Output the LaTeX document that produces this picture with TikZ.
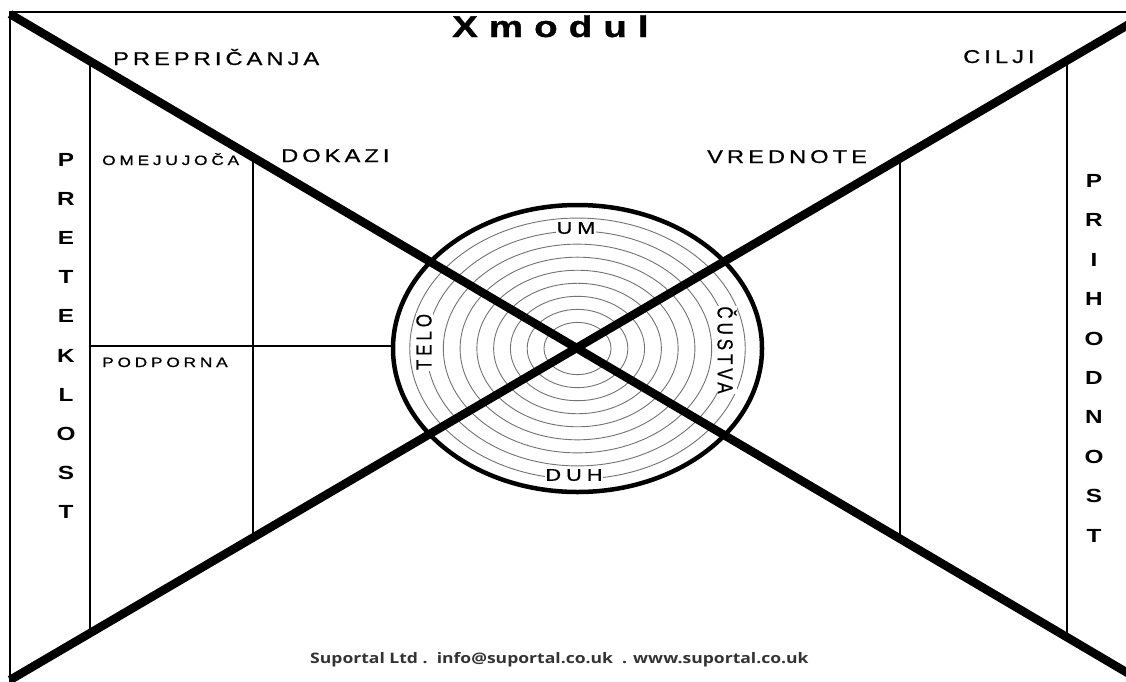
\documentclass[tikz,border=0pt]{standalone}
\usepackage{fontspec}
\setmainfont{Liberation Sans}
\newfontfamily\labfont[LetterSpace=17,FakeBold=0.6]{Liberation Sans}
\newfontfamily\labsmfont[LetterSpace=22,FakeBold=0.6]{Liberation Sans}
\newfontfamily\ringfont[LetterSpace=23,FakeBold=0.6]{Liberation Sans}
\newfontfamily\titlefont[LetterSpace=29,FakeBold=1]{Liberation Sans}
\newfontfamily\footfont{Open Sans}
\newcommand{\hstr}[1]{\scalebox{1.28}[1]{#1}}
\newcommand{\vstr}[1]{\scalebox{1}[1.28]{#1}}
\tikzset{
  frameline/.style={line width=1.5pt, black},
  diag/.style={line width=8.5pt, black},
  divider/.style={line width=2pt, black},
  ringline/.style={line width=0.9pt, black!55},
  outer/.style={line width=4.5pt, black},
  lab/.style={inner sep=0pt, anchor=base west, font=\labfont\fontsize{18.5}{18.5}\selectfont},
  labsm/.style={inner sep=0pt, anchor=base west, font=\labsmfont\fontsize{13.5}{13.5}\selectfont},
  ringlab/.style={inner sep=0.8pt, fill=white, font=\ringfont\fontsize{17}{17}\selectfont},
  vletter/.style={inner sep=0pt, font=\bfseries\fontsize{19}{19}\selectfont},
}
\begin{document}
\begin{tikzpicture}[x=1pt,y=-1pt]
\useasboundingbox (0,0) rectangle (1126,681);
\begin{scope}
\clip (0,0) rectangle (1126,681);
\fill[white] (0,0) rectangle (1126,681);
% frame
\coordinate (FTL) at (10,12);
\coordinate (FTR) at (1130,12);
\coordinate (FBL) at (10,690);
\draw[frameline] (FBL) -- (FTL) -- (FTR);
% ellipse rings
\coordinate (C) at (577.5,348.5);
\foreach \k in {2,...,10}{
  \draw[ringline] (C) ellipse ({184.5pt*\k/11} and {143.5pt*\k/11});
}
% dividers
\coordinate (V1t) at (90,61.2);   \coordinate (V1b) at (90,633.1);
\coordinate (V2t) at (253,157.3); \coordinate (V2b) at (253,537.6);
\coordinate (V3t) at (900,158.4); \coordinate (V3b) at (900,538.8);
\coordinate (V4t) at (1067,60.6); \coordinate (V4b) at (1067,637.2);
\coordinate (H1) at (90,346);     \coordinate (H2) at (393,346);
\draw[divider] (V1t) -- (V1b);
\draw[divider] (V2t) -- (V2b);
\draw[divider] (V3t) -- (V3b);
\draw[divider] (V4t) -- (V4b);
\draw[divider] (H1) -- (H2);
% ring labels
\node[ringlab] (um) at (576,228) {\hstr{UM}};
\node[ringlab] (duh) at (574,475) {\hstr{DUH}};
\node[ringlab, rotate=90] (telo) at (424,342) {\vstr{TELO}};
\node[ringlab, rotate=-90] (custva) at (727,350) {\vstr{ČUSTVA}};
% outer ellipse
\draw[outer] (C) ellipse (184.5pt and 143.5pt);
% diagonals
\coordinate (A1) at (10,14);
\coordinate (A2) at (1136,677.9);
\coordinate (B1) at (10,680);
\coordinate (B2) at (1136,20.1);
\draw[diag] (A1) -- (A2);
\draw[diag] (B1) -- (B2);
\end{scope}
% labels
\node[lab] (prep) at (113,65) {\hstr{PREPRIČANJA}};
\node[lab] (dokazi) at (281,162) {\hstr{DOKAZI}};
\node[lab] (vred) at (707,163) {\hstr{VREDNOTE}};
\node[lab] (cilji) at (963,63) {\hstr{CILJI}};
\node[labsm] (omej) at (102,165) {\hstr{OMEJUJOČA}};
\node[labsm] (podp) at (102,367) {\hstr{PODPORNA}};
\node[inner sep=0pt, anchor=base west, font=\titlefont\bfseries\fontsize{30}{30}\selectfont] (title) at (452,37) {\hstr{Xmodul}};
\node[inner sep=0pt, anchor=base west, text=black!80, font=\footfont\bfseries\fontsize{14.5}{14.5}\selectfont] (foot) at (310,663) {\scalebox{1.21}[1]{Suportal Ltd .\ \ info@suportal.co.uk \ . www.suportal.co.uk}};
% vertical words
\foreach \ch [count=\i from 0] in {P,R,E,T,E,K,L,O,S,T}{
  \node[vletter] (pl\i) at (66,{160+39.1*\i}) {\hstr{\ch}};
}
\foreach \ch [count=\i from 0] in {P,R,I,H,O,D,N,O,S,T}{
  \node[vletter] (pr\i) at (1094,{181+39.4*\i}) {\hstr{\ch}};
}
\end{tikzpicture}
\end{document}
